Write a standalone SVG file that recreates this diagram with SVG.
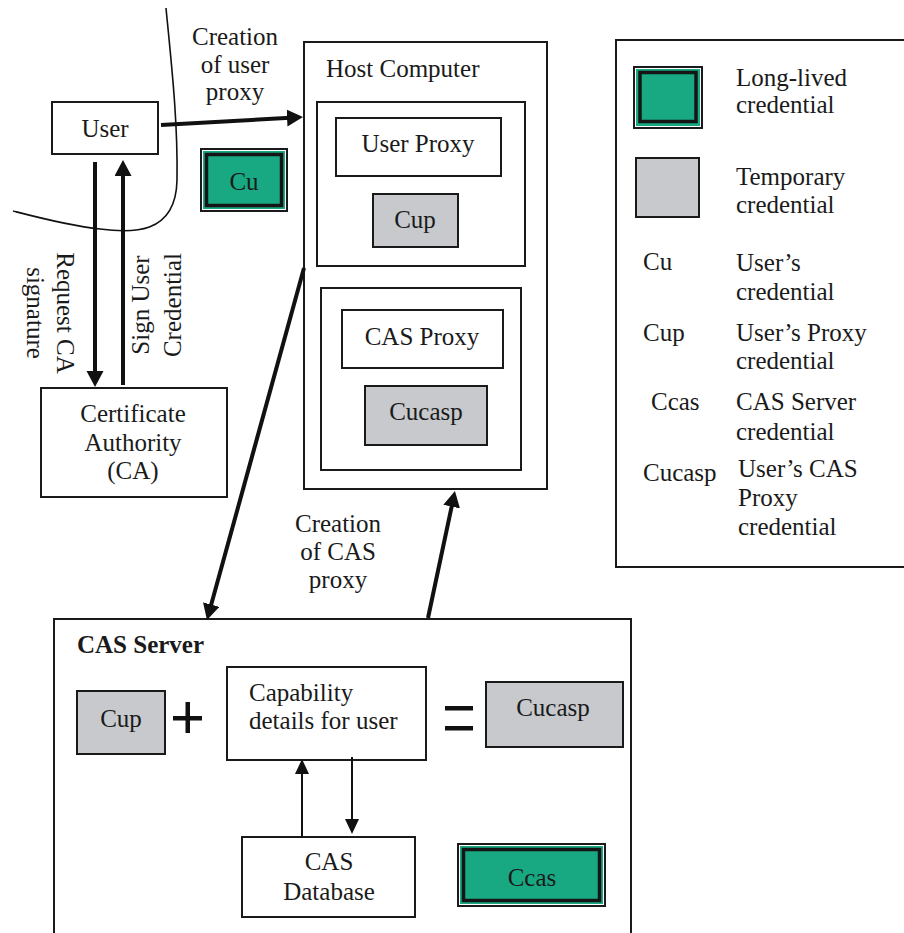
<svg xmlns="http://www.w3.org/2000/svg" width="904" height="933" viewBox="0 0 904 933">
<style>
  .bx{fill:#fff;stroke:#1a1a1a;stroke-width:2}
  .tmp{fill:#c7c9cd;stroke:#1a1a1a;stroke-width:2}
  .t{font-family:"Liberation Serif","Times New Roman",serif;font-size:25px;fill:#1a1a1a}
  .c{text-anchor:middle}
  .b{font-weight:bold}
  .thick{stroke:#111;stroke-width:4;fill:none}
  .thin{stroke:#111;stroke-width:2;fill:none}
  .curve{stroke:#111;stroke-width:1.6;fill:none}
  .gout{fill:#1a1a1a}
  .gw{fill:#fff}
  .gg{fill:#18a982}
  .gin{fill:#18a982;stroke:#151515;stroke-width:3.5}
</style>
<defs>
  <marker id="ah" markerUnits="userSpaceOnUse" markerWidth="18" markerHeight="18" refX="8" refY="8.5" orient="auto">
    <path d="M0,0 L16,8.5 L0,17 z" fill="#111"/>
  </marker>
  <marker id="ahs" markerUnits="userSpaceOnUse" markerWidth="16" markerHeight="16" refX="8" refY="7" orient="auto">
    <path d="M0,0 L15,7 L0,14 z" fill="#111"/>
  </marker>
</defs>

<!-- boundary curve -->
<path class="curve" d="M 166 8 C 171 60, 178 120, 177 180 C 176 236, 130 233, 100 229 C 70 226, 40 218, 13 211"/>

<g id="user">
  <rect class="bx" x="52" y="102" width="106" height="52"/>
  <text class="t c" x="105" y="137">User</text>
</g>

<g id="ca">
  <rect class="bx" x="41" y="388" width="186" height="109"/>
  <text class="t c" x="133" y="422">Certificate</text>
  <text class="t c" x="133" y="451">Authority</text>
  <text class="t c" x="133" y="479">(CA)</text>
</g>

<g id="cu">
  <rect class="gout" x="200" y="148" width="88" height="64"/>
  <rect class="gw" x="202" y="150" width="84" height="60"/>
  <rect class="gg" x="203" y="151" width="82" height="58"/>
  <rect class="gin" x="206.5" y="154.5" width="75" height="51"/>
  <text class="t c" x="244" y="190">Cu</text>
</g>

<g id="host">
  <rect class="bx" x="304" y="42" width="243" height="447"/>
  <text class="t" x="326" y="77">Host Computer</text>
  <g id="userproxy-container">
    <rect class="bx" x="317" y="102" width="208" height="164"/>
    <g id="userproxy">
      <rect class="bx" x="336" y="118" width="165" height="58"/>
      <text class="t c" x="418" y="152">User Proxy</text>
    </g>
    <g id="cup-host">
      <rect class="tmp" x="373" y="194" width="85" height="53"/>
      <text class="t c" x="415" y="228">Cup</text>
    </g>
  </g>
  <g id="casproxy-container">
    <rect class="bx" x="321" y="288" width="200" height="182"/>
    <g id="casproxy">
      <rect class="bx" x="342" y="310" width="161" height="58"/>
      <text class="t c" x="422" y="345">CAS Proxy</text>
    </g>
    <g id="cucasp-host">
      <rect class="tmp" x="365" y="386" width="122" height="59"/>
      <text class="t c" x="426" y="420">Cucasp</text>
    </g>
  </g>
</g>

<g id="legend">
  <rect class="bx" x="616" y="40" width="300" height="527"/>
  <g id="legend-long">
    <rect class="gout" x="633" y="66" width="70" height="63"/>
    <rect class="gw" x="635" y="68" width="66" height="59"/>
    <rect class="gg" x="636" y="69" width="64" height="57"/>
    <rect class="gin" x="640" y="72.5" width="56" height="49"/>
    <text class="t" x="736" y="86">Long-lived</text>
    <text class="t" x="736" y="113">credential</text>
  </g>
  <g id="legend-temp">
    <rect class="tmp" x="636" y="158" width="63" height="59"/>
    <text class="t" x="736" y="185">Temporary</text>
    <text class="t" x="736" y="213">credential</text>
  </g>
  <text class="t" x="643" y="270">Cu</text>
  <text class="t" x="736" y="271">User’s</text>
  <text class="t" x="736" y="300">credential</text>
  <text class="t" x="643" y="341">Cup</text>
  <text class="t" x="736" y="341">User’s Proxy</text>
  <text class="t" x="736" y="369">credential</text>
  <text class="t" x="651" y="410">Ccas</text>
  <text class="t" x="736" y="410">CAS Server</text>
  <text class="t" x="736" y="440">credential</text>
  <text class="t" x="643" y="481">Cucasp</text>
  <text class="t" x="738" y="477">User’s CAS</text>
  <text class="t" x="738" y="506">Proxy</text>
  <text class="t" x="738" y="535">credential</text>
</g>

<g id="cas-server">
  <rect class="bx" x="54" y="619" width="577" height="330"/>
  <text class="t b" x="77" y="653">CAS Server</text>
  <g id="cup-cas">
    <rect class="tmp" x="77" y="691" width="88" height="63"/>
    <text class="t c" x="121" y="727">Cup</text>
  </g>
  <g id="plus">
    <rect x="173" y="716" width="29" height="4.5" fill="#111"/>
    <rect x="185.5" y="702" width="4.5" height="31" fill="#111"/>
  </g>
  <g id="capability">
    <rect class="bx" x="227" y="667" width="199" height="93"/>
    <text class="t" x="249" y="701">Capability</text>
    <text class="t" x="249" y="729">details for user</text>
  </g>
  <g id="equals">
    <rect x="445" y="706" width="28" height="4.5" fill="#111"/>
    <rect x="445" y="726" width="28" height="4.5" fill="#111"/>
  </g>
  <g id="cucasp-cas">
    <rect class="tmp" x="486" y="682" width="137" height="65"/>
    <text class="t c" x="553" y="716">Cucasp</text>
  </g>
  <g id="cas-db">
    <rect class="bx" x="242" y="837" width="173" height="80"/>
    <text class="t c" x="329" y="870">CAS</text>
    <text class="t c" x="329" y="900">Database</text>
  </g>
  <g id="ccas">
    <rect class="gout" x="457" y="843" width="149" height="64"/>
    <rect class="gw" x="459" y="845" width="145" height="60"/>
    <rect class="gg" x="460" y="846" width="143" height="58"/>
    <rect class="gin" x="463.5" y="849.5" width="136" height="51"/>
    <text class="t c" x="532" y="886">Ccas</text>
  </g>
</g>

<g id="connectors">
  <line class="thick" x1="161" y1="125" x2="295" y2="117.5" marker-end="url(#ah)"/>
  <line class="thick" x1="95" y1="162" x2="95" y2="379" marker-end="url(#ah)"/>
  <line class="thick" x1="123" y1="385" x2="123" y2="168" marker-end="url(#ah)"/>
  <line class="thick" x1="304" y1="268" x2="209.1" y2="612.3" marker-end="url(#ah)"/>
  <line class="thick" x1="428" y1="618" x2="453.3" y2="498.8" marker-end="url(#ah)"/>
  <line class="thin" x1="302" y1="837" x2="302" y2="766" marker-end="url(#ahs)"/>
  <line class="thin" x1="352" y1="757" x2="352" y2="827" marker-end="url(#ahs)"/>
</g>

<g id="labels">
  <text class="t c" x="235" y="45">Creation</text>
  <text class="t c" x="235" y="73">of user</text>
  <text class="t c" x="235" y="100">proxy</text>
  <g transform="translate(57,313) rotate(90)">
    <text class="t c" x="0" y="0">Request CA</text>
    <text class="t c" x="0" y="30">signature</text>
  </g>
  <g transform="translate(149,305) rotate(-90)">
    <text class="t c" x="0" y="0">Sign User</text>
    <text class="t c" x="0" y="32">Credential</text>
  </g>
  <text class="t c" x="338" y="532">Creation</text>
  <text class="t c" x="338" y="560">of CAS</text>
  <text class="t c" x="338" y="588">proxy</text>
</g>
</svg>
